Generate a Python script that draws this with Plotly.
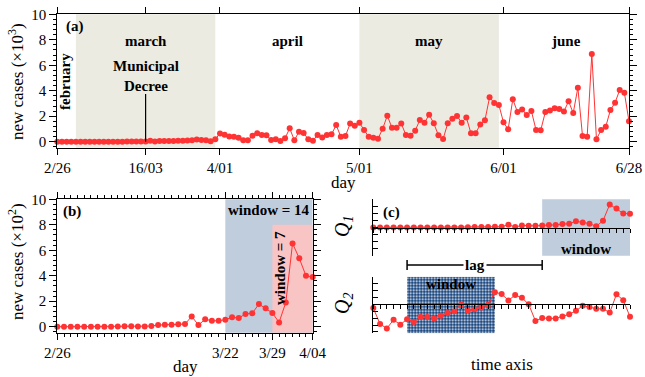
import plotly.graph_objects as go

# ---------------- data ----------------
# daily new cases, day 0 = 2/26 ... day 123 = 6/28
new_cases = [
    0, 0, 0, 0, 0, 0, 0, 0, 0, 1, 3, 3, 2, 1, 5, 13, 16, 16, 19, 21,
    81, 13, 58, 47, 47, 55, 74, 68, 100, 105, 178, 144, 108, 34, 191, 654, 537, 400, 390,
    320, 110, 110, 470, 660, 530, 500, 130, 190, 50,
    270, 1050, 110, 790, 680, 190, 80, 530, 340, 530,
    580, 1310, 390, 450, 1420, 1260, 1490, 920, 390, 320,
    240, 1020, 2040, 1100, 1100, 1420, 530, 470, 870, 1700,
    1480, 2120, 1440, 500, 210, 1440, 1810, 2020, 1490, 1910,
    660, 660, 1360, 1680, 3480, 3040, 2880, 1520, 970, 3330,
    2330, 2530, 2100, 2410, 920, 890, 2330, 2440, 2620, 2570,
    2380, 3170, 2250, 4240, 450, 390, 6880, 190, 920, 1180,
    2490, 3060, 4060, 3850, 1600,
]
a_tick_days = [0, 19, 35, 65, 96, 123]
a_tick_labels = ["2/26", "16/03", "4/01", "5/01", "6/01", "6/28"]
shaded_months = [(4, 34), (65, 95)]          # march, may
month_names = ["february", "march", "april", "may", "june"]
month_centers = [1.7, 19, 49.5, 80, 109.5]
decree_day = 19

b_last_day = 38
b_tick_days = [0, 25, 32, 38]
b_tick_labels = ["2/26", "3/22", "3/29", "4/04"]
window14 = (25, 38)
window7 = (32, 38)

# schematic panel (c)
q1_values = [c / 100 for c in new_cases[:39]]
q2_values = [-1.1, -5.7, -7.0, -4.5, -5.9, -4.3, -5.1, -3.7, -3.7, -4.1,
             -3.3, -2.5, -2.0, -0.1, -1.8, -1.4, -0.9, -0.1, 3.5, 3.0,
             1.1, 2.7, 1.9, 0.0, -4.8, -4.0, -4.1, -4.1, -3.5, -2.9,
             -1.9, -0.4, -0.8, -1.3, -1.3, -2.4, 2.9, 1.2, -3.6]
q1_window = (25, 38)
q2_window = (5, 18)

# ---------------- helpers ----------------
W, H = 645, 377
def px(x): return x / W
def py(y): return 1 - y / H

FONT = "Liberation Serif"
RED = "#ff3333"
BEIGE = "#ebebe2"
STEEL = "#bfcddd"
PINK = "#f8c4c4"

fig = go.Figure()

days = list(range(len(new_cases)))
# panel a
fig.add_trace(go.Scatter(x=days, y=[c / 1000 for c in new_cases], mode="lines+markers",
                         line=dict(color=RED, width=1), marker=dict(color=RED, size=6),
                         xaxis="x", yaxis="y", cliponaxis=False, showlegend=False))
# panel b
bd = days[:b_last_day + 1]
fig.add_trace(go.Scatter(x=bd, y=[c / 100 for c in new_cases[:b_last_day + 1]], mode="lines+markers",
                         line=dict(color=RED, width=1), marker=dict(color=RED, size=6),
                         xaxis="x2", yaxis="y2", cliponaxis=False, showlegend=False))
# panel c: Q2 window with pattern
q2_lo, q2_hi = -8.4, 8.0
fig.add_trace(go.Scatter(x=[q2_window[0], q2_window[1], q2_window[1], q2_window[0], q2_window[0]],
                         y=[q2_lo, q2_lo, q2_hi, q2_hi, q2_lo], mode="none", fill="toself",
                         fillcolor="#0b3d7e",
                         fillpattern=dict(shape=".", bgcolor="#0a3a78", fgcolor="#ffffff", size=3, solidity=0.35),
                         xaxis="x4", yaxis="y4", showlegend=False, hoverinfo="skip"))
qx = list(range(len(q1_values)))
fig.add_trace(go.Scatter(x=qx, y=q1_values, mode="lines+markers",
                         line=dict(color=RED, width=1), marker=dict(color=RED, size=6),
                         xaxis="x3", yaxis="y3", cliponaxis=False, showlegend=False))
fig.add_trace(go.Scatter(x=qx, y=q2_values, mode="lines+markers",
                         line=dict(color=RED, width=1), marker=dict(color=RED, size=6),
                         xaxis="x4", yaxis="y4", cliponaxis=False, showlegend=False))

axis_common = dict(showline=True, linecolor="black", linewidth=1, showgrid=False, zeroline=False,
                   automargin=False, tickcolor="black",
                   tickfont=dict(family=FONT, size=15, color="black"))

shapes = []
for s, e in shaded_months:
    shapes.append(dict(type="rect", xref="x", yref="y domain", x0=s, x1=e, y0=0, y1=1,
                       fillcolor=BEIGE, line=dict(width=0), layer="below"))
shapes.append(dict(type="line", xref="x", yref="y", x0=decree_day, x1=decree_day, y0=0, y1=3.75,
                   line=dict(color="black", width=1.2)))
shapes.append(dict(type="rect", xref="x2", yref="y2 domain", x0=window14[0], x1=window14[1], y0=0, y1=1,
                   fillcolor=STEEL, line=dict(width=0), layer="below"))
shapes.append(dict(type="rect", xref="x2", yref="y2", x0=window7[0], x1=window7[1], y0=-0.47, y1=8,
                   fillcolor=PINK, line=dict(width=0), layer="below"))
shapes.append(dict(type="rect", xref="x3", yref="y3 domain", x0=q1_window[0], x1=q1_window[1], y0=0, y1=1,
                   fillcolor=STEEL, line=dict(width=0), layer="below"))
# lag bracket
lag_y = py(265)
shapes.append(dict(type="line", xref="x3", yref="paper", x0=q2_window[0], x1=q1_window[0], y0=lag_y, y1=lag_y,
                   line=dict(color="black", width=1.5)))
for xv in (q2_window[0], q1_window[0]):
    shapes.append(dict(type="line", xref="x3", yref="paper", x0=xv, x1=xv, y0=py(260), y1=py(270),
                       line=dict(color="black", width=1.5)))

def ann(text, x, y, size=15, bold=True, angle=0, xref="paper", yref="paper", bg=None, italic=False):
    t = text
    if bold:
        t = "<b>" + t + "</b>"
    if italic:
        t = "<i>" + t + "</i>"
    d = dict(text=t, x=x, y=y, xref=xref, yref=yref, showarrow=False, textangle=angle,
             xanchor="center", yanchor="middle", font=dict(family=FONT, size=size, color="black"))
    if bg:
        d["bgcolor"] = bg
    return d

annotations = [
    ann("(a)", px(75), py(27)),
    ann("(b)", px(72), py(211)),
    ann("(c)", px(391), py(212)),
    ann("Municipal<br>Decree", decree_day, py(76), xref="x"),
    ann("window = 14", px(269), py(210)),
    ann("window = 7", px(280), py(268), angle=-90),
    ann("window", (q1_window[0] + q1_window[1]) / 2, py(249), xref="x3"),
    ann("window", (q2_window[0] + q2_window[1]) / 2, py(284), xref="x3"),
    ann("lag", (q2_window[0] + q1_window[0]) / 2, lag_y, xref="x3", bg="white"),
    ann("new cases (×10<sup>3</sup>)", px(16), py(82), size=17, bold=False, angle=-90),
    ann("new cases (×10<sup>2</sup>)", px(16), py(262), size=17, bold=False, angle=-90),
    ann("day", px(343), py(182), size=17, bold=False),
    ann("day", px(185), py(366), size=17, bold=False),
    ann("time axis", px(502), py(364), size=17, bold=False),
    ann("Q<sub>1</sub>", px(343), py(227), size=20, bold=False, italic=True, angle=-90),
    ann("Q<sub>2</sub>", px(343), py(304), size=20, bold=False, italic=True, angle=-90),
]
for name, c in zip(month_names, month_centers):
    if name == "february":
        annotations.append(ann(name, px(65), py(82), angle=-90))
    else:
        annotations.append(ann(name, c, py(41), xref="x"))

fig.update_layout(
    template="none",
    width=W, height=H, autosize=False,
    margin=dict(l=0, r=0, t=0, b=0, pad=0),
    paper_bgcolor="white", plot_bgcolor="rgba(0,0,0,0)",
    font=dict(family=FONT, size=15, color="black"),
    shapes=shapes, annotations=annotations,
    xaxis=dict(axis_common, domain=[px(57.3), px(629)], range=[0, 123], anchor="y",
               tickmode="array", tickvals=a_tick_days, ticktext=a_tick_labels,
               ticks="outside", ticklen=6, mirror="ticks"),
    yaxis=dict(axis_common, domain=[py(147.7), py(14.3)], range=[-0.47, 10], anchor="x",
               tickmode="linear", tick0=0, dtick=2, ticks="outside", ticklen=7, mirror="ticks",
               minor=dict(tickmode="linear", tick0=0, dtick=0.4, ticks="outside", ticklen=3, tickcolor="black")),
    xaxis2=dict(axis_common, domain=[px(57.3), px(312.7)], range=[0, b_last_day], anchor="y2",
                tickmode="array", tickvals=b_tick_days, ticktext=b_tick_labels,
                ticks="outside", ticklen=6, mirror="ticks",
                minor=dict(tickmode="array", tickvals=bd, ticks="outside", ticklen=3, tickcolor="black")),
    yaxis2=dict(axis_common, domain=[py(332.7), py(199.3)], range=[-0.47, 10], anchor="x2",
                tickmode="linear", tick0=0, dtick=2, ticks="outside", ticklen=7, mirror="ticks",
                minor=dict(tickmode="linear", tick0=0, dtick=0.4, ticks="outside", ticklen=3, tickcolor="black")),
    xaxis3=dict(axis_common, domain=[px(373.3), px(630)], range=[0, len(q1_values) - 1],
                anchor="free", position=py(227.5), tickmode="array", tickvals=qx,
                ticks="outside", ticklen=4, showticklabels=False),
    yaxis3=dict(axis_common, domain=[py(255.7), py(199.3)], range=[-8, 8], anchor="x3",
                tickmode="linear", tick0=0, dtick=2, ticks="inside", ticklen=5, showticklabels=False),
    xaxis4=dict(axis_common, domain=[px(373.3), px(630)], range=[0, len(q2_values) - 1],
                anchor="free", position=py(304.3), tickmode="array", tickvals=qx,
                ticks="outside", ticklen=4, showticklabels=False),
    yaxis4=dict(axis_common, domain=[py(333.3), py(276.7)], range=[q2_lo, q2_hi], anchor="x4",
                tickmode="linear", tick0=0, dtick=2, ticks="inside", ticklen=5, showticklabels=False),
)

fig.write_html("out.html")
